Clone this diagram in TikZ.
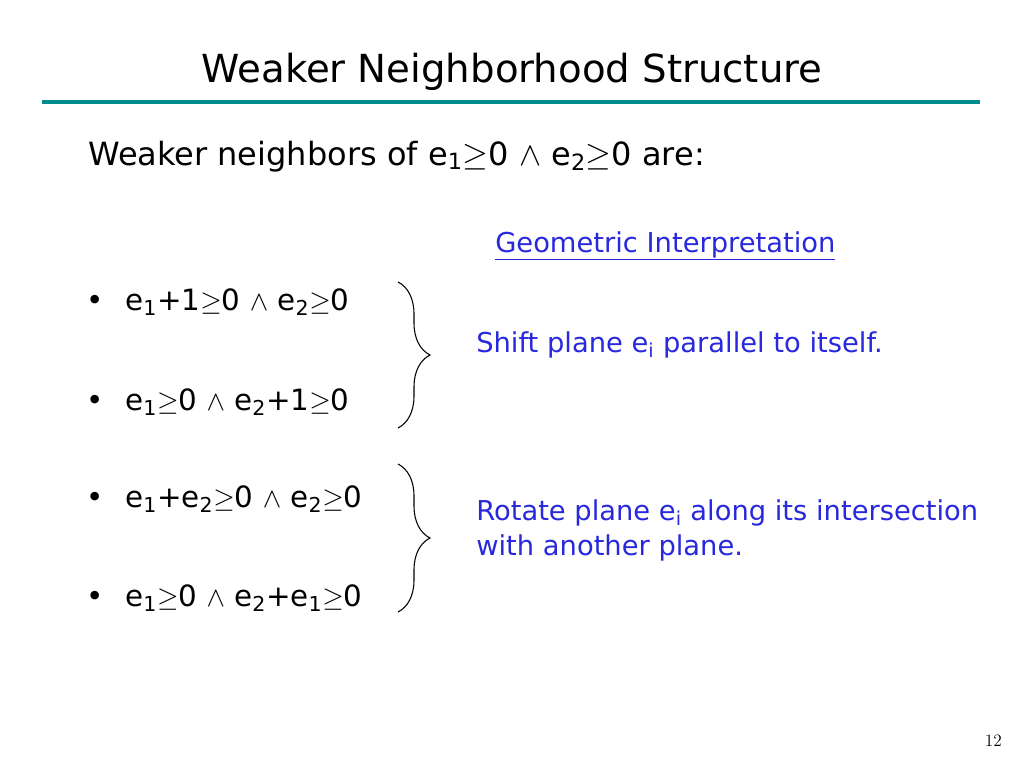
\documentclass[tikz,border=0pt]{standalone}
\usepackage{fontspec}
\setmainfont{DejaVu Sans}
\usetikzlibrary{decorations.pathreplacing}
\definecolor{rule}{RGB}{0,140,140}
\definecolor{note}{RGB}{40,40,220}
\tikzset{
  item/.style={anchor=base west, font=\fontsize{22}{26}\selectfont, inner sep=0},
  notetext/.style={anchor=base west, text=note, font=\fontsize{20.5}{26}\selectfont, inner sep=0, align=left},
  bracket/.style={decorate, decoration={brace, amplitude=24pt}, line width=0.8pt}
}
\begin{document}
\begin{tikzpicture}[x=0.75pt, y=-0.75pt]
  \useasboundingbox (0,0) rectangle (1024,768);
  \node (title) [anchor=base, font=\fontsize{29}{34}\selectfont, inner sep=0] at (512,82) {Weaker Neighborhood Structure};
  \draw [rule, line width=3pt] (42,102) -- (980,102);
  \node (intro) [item, font=\fontsize{24}{28}\selectfont] at (88,165) {Weaker neighbors of e\textsubscript{1}$\geq$0 $\wedge$ e\textsubscript{2}$\geq$0 are:};
  \node (geo) [notetext] at (495,252) {\underline{Geometric Interpretation}};
  % items
  \node (b1) [item] at (86,310) {\textbullet};
  \node (i1) [item] at (125,310) {e\textsubscript{1}+1$\geq$0 $\wedge$ e\textsubscript{2}$\geq$0};
  \node (b2) [item] at (86,410) {\textbullet};
  \node (i2) [item] at (125,410) {e\textsubscript{1}$\geq$0 $\wedge$ e\textsubscript{2}+1$\geq$0};
  \node (b3) [item] at (86,507) {\textbullet};
  \node (i3) [item] at (125,507) {e\textsubscript{1}+e\textsubscript{2}$\geq$0 $\wedge$ e\textsubscript{2}$\geq$0};
  \node (b4) [item] at (86,606) {\textbullet};
  \node (i4) [item] at (125,606) {e\textsubscript{1}$\geq$0 $\wedge$ e\textsubscript{2}+e\textsubscript{1}$\geq$0};
  % braces
  \coordinate (t1) at (398,282);
  \coordinate (e1) at (398,428);
  \coordinate (t2) at (398,464);
  \coordinate (e2) at (398,612);
  \draw [bracket] (t1) -- (e1);
  \draw [bracket] (t2) -- (e2);
  \node (shift) [notetext] at (476,352) {Shift plane e\textsubscript{i} parallel to itself.};
  \node (rot) [notetext] at (476,555) {Rotate plane e\textsubscript{i} along its intersection\\with another plane.};
  \node (page) [anchor=base east, font=\fontfamily{lmr}\fontsize{13}{15}\selectfont, inner sep=0] at (1002,746) {12};
\end{tikzpicture}
\end{document}
